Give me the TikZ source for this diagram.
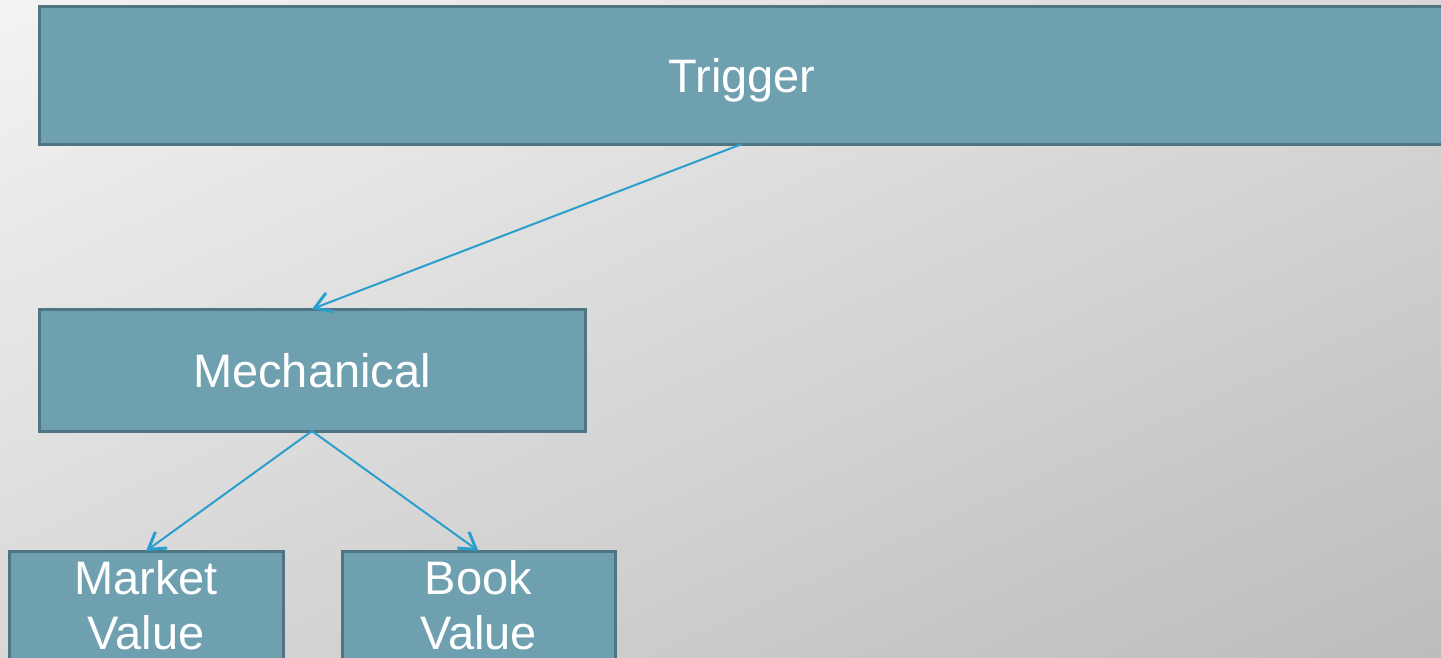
\documentclass[tikz,border=0pt]{standalone}
\usepackage{fontspec}
\setmainfont{Liberation Sans}
\usetikzlibrary{arrows.meta,shadings}
\definecolor{boxfill}{HTML}{6FA0B0}
\definecolor{boxline}{HTML}{4F7482}
\definecolor{arrcol}{HTML}{2A9FCD}
\definecolor{bgA}{HTML}{F3F3F3}
\definecolor{bgB}{HTML}{D8D8D8}
\definecolor{bgC}{HTML}{BCBCBC}
\tikzset{
  box/.style={draw=boxline, fill=boxfill, line width=3pt, text=white,
    font=\fontsize{47}{55}\selectfont, align=center, inner sep=0pt,
    anchor=north west, outer sep=0pt},
  oneline/.style={text height=34pt, text depth=0pt},
  arr/.style={draw=arrcol, line width=2pt, -{Straight Barb[length=16pt,width=20pt,line width=3pt]}}
}
\begin{document}
\begin{tikzpicture}[x=1pt,y=1pt]
\useasboundingbox (0,0) rectangle (1441,-657);
\clip (0,0) rectangle (1441,-657);
\shade[upper left=bgA, upper right=bgB, lower left=bgB, lower right=bgC] (0,0) rectangle (1441,-657);
\node[box, oneline, minimum width=1406, minimum height=138] (trig) at (39,-6) {Trigger};
\node[box, oneline, minimum width=546, minimum height=122] (mech) at (39,-309) {Mechanical};
\node[box, minimum width=274, minimum height=109] (mkt) at (9,-551) {Market\\Value};
\node[box, minimum width=273, minimum height=109] (book) at (342,-551) {Book\\Value};
\draw[arr] (trig.south) -- (mech.north);
\draw[arr] (mech.south) -- (mkt.north);
\draw[arr] (mech.south) -- (book.north);
\end{tikzpicture}
\end{document}
